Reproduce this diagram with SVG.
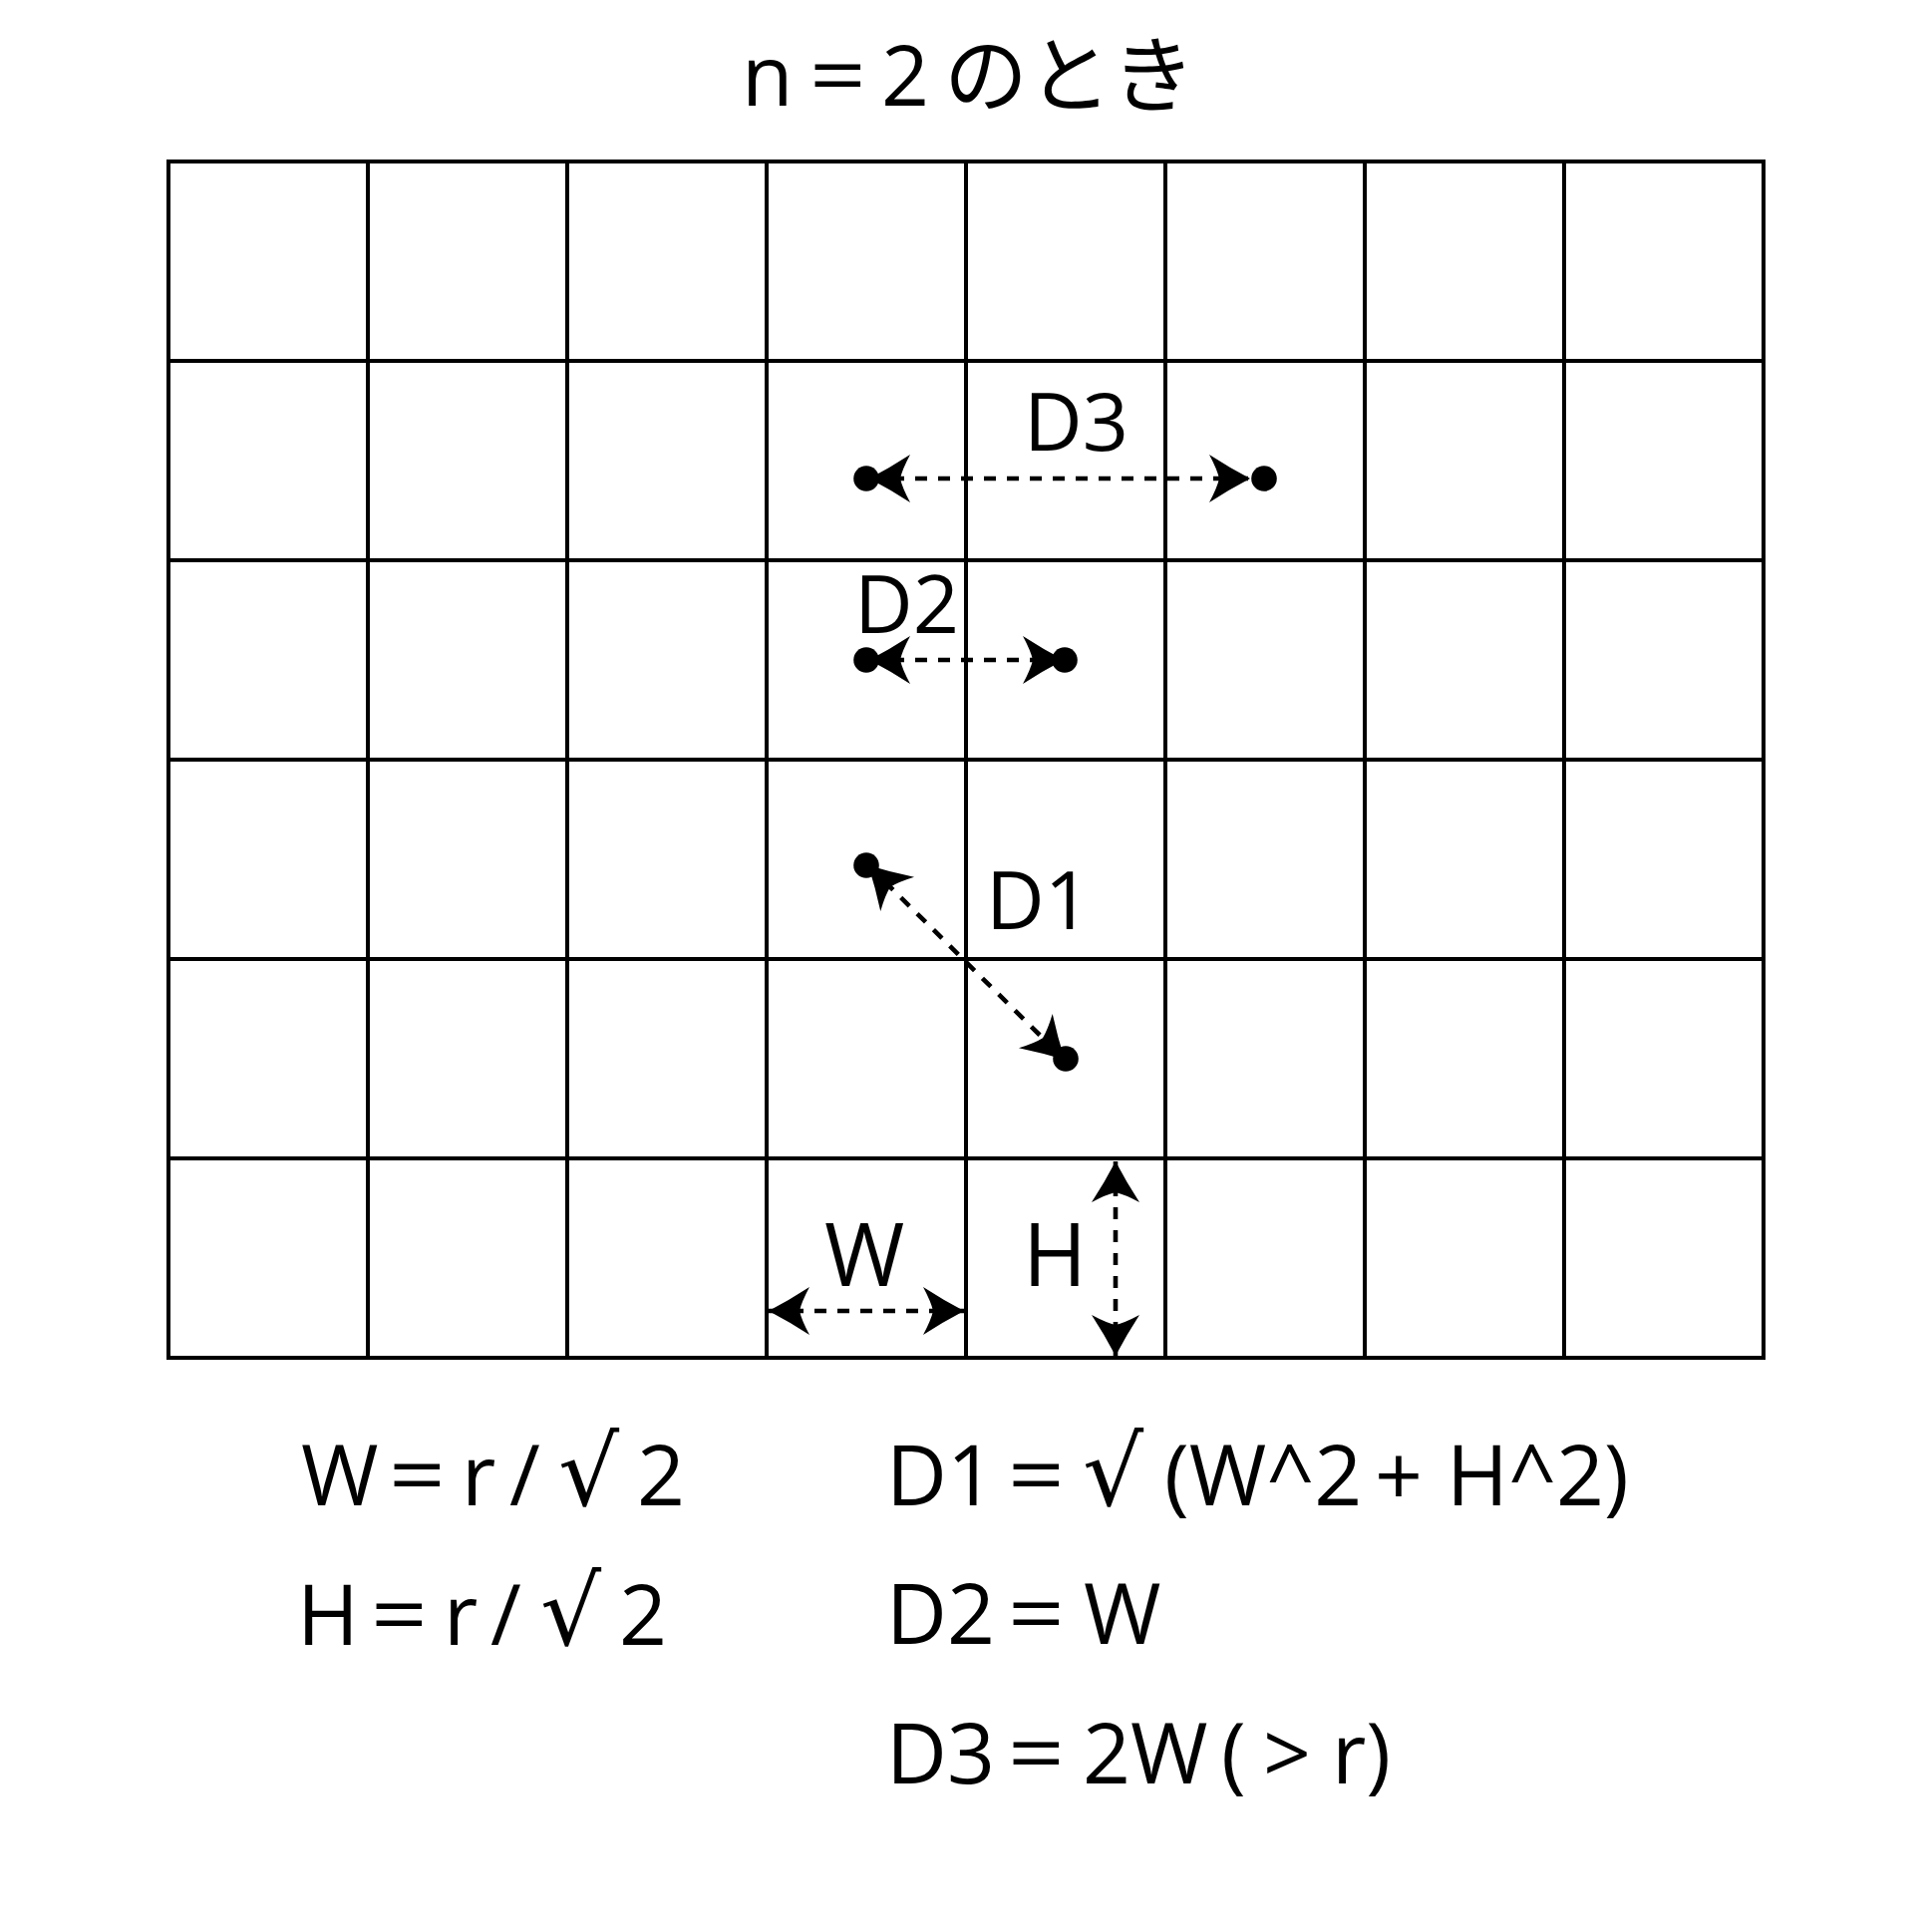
<svg xmlns="http://www.w3.org/2000/svg" width="1938" height="1938" viewBox="0 0 1938 1938">
<style>
  .grid { fill: none; stroke: #000; stroke-width: 4; }
  .dim { fill: none; stroke: #000; stroke-width: 4.6; stroke-dasharray: 12 11; marker-start: url(#ah); marker-end: url(#ah); }
  .dot { fill: #000; }
  .t { font-family: "Open Sans", "Noto Sans CJK JP", sans-serif; fill: #000; }
  .f { font-size: 84px; word-spacing: -14px; }
  .lab { font-size: 81px; }
  .lab2 { font-size: 87px; }
  .jp { font-family: "Noto Sans CJK JP", sans-serif; }
  .rad { font-family: "DejaVu Sans", sans-serif; font-size: 96px; }
</style>
<defs>
  <marker id="ah" markerUnits="userSpaceOnUse" orient="auto-start-reverse" refX="0" refY="0" markerWidth="50" markerHeight="50" overflow="visible">
    <path d="M0,0 Q-21,-11 -41,-24 Q-33,-9 -31,0 Q-33,9 -41,24 Q-21,11 0,0 Z" fill="#000"/>
  </marker>
</defs>
<rect width="1938" height="1938" fill="#fff"/>

<g id="title">
  <text class="t f" y="106"><tspan x="744">n </tspan><tspan x="812" textLength="66" lengthAdjust="spacingAndGlyphs">= </tspan><tspan x="884">2 </tspan><tspan class="jp" x="947">のとき</tspan></text>
</g>

<g id="grid" class="grid">
  <rect x="169" y="162" width="1600" height="1200"/>
  <path d="M369,162V1362M569,162V1362M769,162V1362M969,162V1362M1169,162V1362M1369,162V1362M1569,162V1362"/>
  <path d="M169,362H1769M169,562H1769M169,762H1769M169,962H1769M169,1162H1769"/>
</g>

<g id="connectors">
  <line id="c-d3" class="dim" x1="872" y1="480" x2="1254" y2="480"/>
  <line id="c-d2" class="dim" x1="872" y1="662" x2="1067" y2="662"/>
  <line id="c-d1" class="dim" x1="871" y1="868" x2="1068" y2="1063"/>
  <line id="c-w" class="dim" x1="771" y1="1315" x2="967" y2="1315"/>
  <line id="c-h" class="dim" x1="1119" y1="1165" x2="1119" y2="1360"/>
</g>

<g id="p-d3a"><circle class="dot" cx="869" cy="480" r="12.8"/></g>
<g id="p-d3b"><circle class="dot" cx="1268" cy="480" r="12.8"/></g>
<g id="p-d2a"><circle class="dot" cx="869" cy="662" r="12.8"/></g>
<g id="p-d2b"><circle class="dot" cx="1068" cy="662" r="12.8"/></g>
<g id="p-d1a"><circle class="dot" cx="869" cy="868" r="12.8"/></g>
<g id="p-d1b"><circle class="dot" cx="1069" cy="1062" r="12.8"/></g>

<g id="labels">
  <text class="t lab" x="1027" y="452">D3</text>
  <text class="t lab" x="857" y="635">D2</text>
  <text class="t lab" x="989" y="932">D1</text>
  <text class="t lab2" x="827" y="1290">W</text>
  <text class="t lab2" x="1026" y="1290">H</text>
</g>

<g id="formulas">
  <text class="t f" y="1510"><tspan x="302">W </tspan><tspan x="390" textLength="66" lengthAdjust="spacingAndGlyphs">= </tspan><tspan x="463">r </tspan><tspan x="511">/ </tspan><tspan class="rad" x="560">√</tspan><tspan x="639">2</tspan></text>
  <text class="t f" y="1650"><tspan x="298">H </tspan><tspan x="372" textLength="66" lengthAdjust="spacingAndGlyphs">= </tspan><tspan x="445">r </tspan><tspan x="492">/ </tspan><tspan class="rad" x="542">√</tspan><tspan x="621">2</tspan></text>
  <text class="t f" y="1510"><tspan x="889">D1 </tspan><tspan x="1011" textLength="66" lengthAdjust="spacingAndGlyphs">= </tspan><tspan class="rad" x="1086">√</tspan><tspan x="1168">(W^2 </tspan><tspan x="1379">+ </tspan><tspan x="1451">H^2)</tspan></text>
  <text class="t f" y="1649"><tspan x="889">D2 </tspan><tspan x="1011" textLength="66" lengthAdjust="spacingAndGlyphs">= </tspan><tspan x="1087">W</tspan></text>
  <text class="t f" y="1789"><tspan x="889">D3 </tspan><tspan x="1011" textLength="66" lengthAdjust="spacingAndGlyphs">= </tspan><tspan x="1086">2W </tspan><tspan x="1225">( </tspan><tspan x="1267">&gt; </tspan><tspan x="1336">r)</tspan></text>
</g>
</svg>
